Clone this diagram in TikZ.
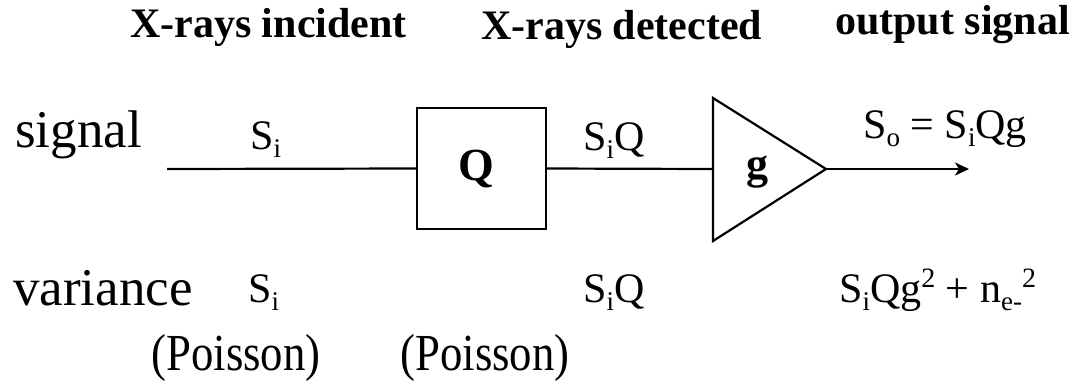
\documentclass[tikz,border=0pt]{standalone}
\usepackage{fontspec}
\setmainfont{Liberation Serif}
\newfontfamily\condserif[FakeStretch=0.86]{Liberation Serif}
\usetikzlibrary{arrows.meta}
\newcommand\lowsub[1]{\raisebox{-8pt}{\fontsize{27}{30}\selectfont #1}}
\newcommand\highsup[1]{\raisebox{15pt}{\fontsize{28}{30}\selectfont #1}}
\begin{document}
\begin{tikzpicture}[x=1pt,y=-1pt,
  heading/.style={anchor=base west,inner sep=0pt,font=\fontsize{42}{48}\selectfont\bfseries},
  bigtext/.style={anchor=base west,inner sep=0pt,font=\fontsize{53}{60}\selectfont},
  poisson/.style={anchor=base,inner sep=0pt,font=\condserif\fontsize{52}{58}\selectfont},
  qty/.style={anchor=base west,inner sep=0pt,font=\fontsize{42}{48}\selectfont},
  blocklabel/.style={anchor=base,inner sep=0pt,font=\fontsize{46}{50}\selectfont\bfseries},
  wire/.style={line width=2.2pt},
  blockbox/.style={draw,line width=2.4pt,minimum width=129pt,minimum height=121pt,inner sep=0pt}
]
\useasboundingbox (0,0) rectangle (1072,384);
% headings
\node[heading] (h1) at (130,37) {X-rays incident};
\node[heading] (h2) at (481,39) {X-rays detected};
\node[heading] (h3) at (835,34) {output signal};
% row labels
\node[bigtext] (sig) at (15,147) {signal};
\node[bigtext] (var) at (13,305) {variance};
\node[poisson] (p1) at (236,370) {(Poisson)};
\node[poisson] (p2) at (485,370) {(Poisson)};
% blocks
\node[blockbox] (Q) at (481.5,168.5) {};
\node[blocklabel] (Qlab) at (476,180) {Q};
\coordinate (ampTop) at (713,98);
\coordinate (ampBot) at (713,241);
\coordinate (ampTip) at (826,169);
\coordinate (ampIn) at (713,169);
\draw[line width=2.2pt,line join=miter] (ampTop) -- (ampTip) -- (ampBot) -- cycle;
\node[blocklabel,font=\fontsize{44}{48}\selectfont\bfseries] (glab) at (757,178) {g};
% wires
\coordinate (start) at (167,169);
\coordinate (stop) at (969,169);
\draw[wire] (start) -- (Q.west);
\draw[wire] (Q.east) -- (ampIn);
\draw[wire,-{Stealth[length=14pt,width=13pt,inset=4pt]}] (ampTip) -- (stop);
% signal quantities
\node[qty] (s1) at (250,149) {S\lowsub{i}};
\node[qty] (s2) at (583,150) {S\lowsub{i}Q};
\node[qty] (s3) at (863,138) {S\lowsub{o} = S\lowsub{i}Qg};
% variance quantities
\node[qty] (v1) at (248,302) {S\lowsub{i}};
\node[qty] (v2) at (583,302) {S\lowsub{i}Q};
\node[qty] (v3) at (839,302) {S\lowsub{i}Qg\highsup{2} + n\lowsub{e-}\highsup{2}};
\end{tikzpicture}
\end{document}
